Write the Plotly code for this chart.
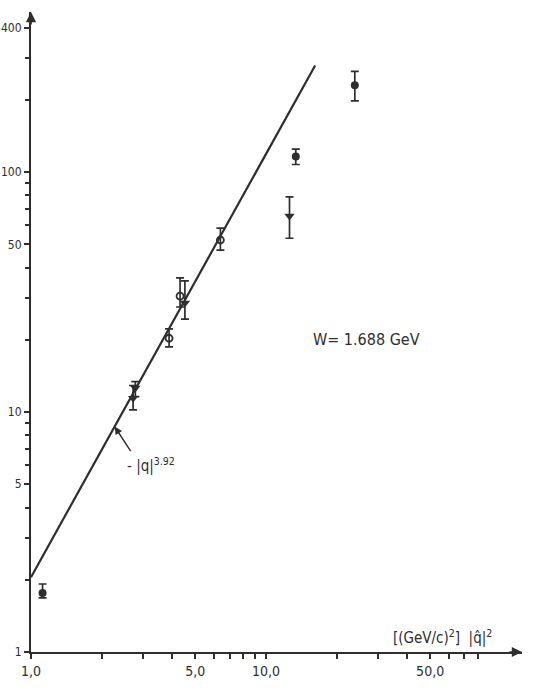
import numpy as np
import plotly.graph_objects as go

# Measured points, grouped by symbol: x = |q|^2 in (GeV/c)^2
full_x = [1.12, 13.4, 23.9]
full_y = [1.76, 116.0, 230.0]
full_up = [0.16, 8.5, 33.0]
full_dn = [0.08, 8.5, 32.0]

open_x = [3.87, 4.31, 6.40]
open_y = [20.3, 30.4, 52.1]
open_up = [1.9, 5.8, 6.3]
open_dn = [1.6, 3.0, 4.8]

tri_x = [2.72, 2.78, 4.52, 12.6]
tri_y = [11.4, 12.6, 28.5, 65.6]
tri_up = [1.5, 0.8, 6.7, 13.2]
tri_dn = [1.2, 1.0, 4.1, 12.6]

# Fitted power law |q|^3.92, drawn between its two ends
fit_x = [1.0, 16.2]
fit_y = [2.05, 278.0]

# Axis ticks
y_major = [1, 5, 10, 50, 100, 400]
y_major_text = ["1", "5", "10", "50", "100", "400"]
y_minor = [2, 3, 4, 6, 7, 8, 9, 20, 30, 40, 60, 70, 80, 90, 200, 300]
x_major = [1, 5, 10, 50]
x_major_text = ["1,0", "5,0", "10,0", "50,0"]
x_minor = [2, 3, 4, 6, 7, 8, 9, 20, 30, 40, 60, 70, 80]

INK = "#2e2e2e"
FONT = "DejaVu Sans Condensed, Liberation Sans Narrow, DejaVu Sans, sans-serif"

fig = go.Figure()

fig.add_trace(go.Scatter(
    x=fit_x, y=fit_y, mode="lines",
    line=dict(color=INK, width=2.2), hoverinfo="skip"))


def err(up, dn):
    return dict(type="data", symmetric=False, array=up, arrayminus=dn,
                color=INK, thickness=1.7, width=4)


fig.add_trace(go.Scatter(
    x=full_x, y=full_y, mode="markers",
    marker=dict(symbol="circle", size=8, color=INK),
    error_y=err(full_up, full_dn)))
fig.add_trace(go.Scatter(
    x=open_x, y=open_y, mode="markers",
    marker=dict(symbol="circle-open", size=7, color=INK, line=dict(width=1.8)),
    error_y=err(open_up, open_dn)))
fig.add_trace(go.Scatter(
    x=tri_x, y=tri_y, mode="markers",
    marker=dict(symbol="triangle-down", size=9, color=INK),
    error_y=err(tri_up, tri_dn)))

# Arrow pointing at the fit line, placed on the line itself
lx = np.log10(fit_x)
ly = np.log10(fit_y)
tip_lx = np.log10(2.27)
tip_ly = ly[0] + (ly[1] - ly[0]) * (tip_lx - lx[0]) / (lx[1] - lx[0])

annotations = [
    dict(x=tip_lx, y=tip_ly, xref="x", yref="y", text="", showarrow=True,
         ax=17, ay=26, arrowhead=2, arrowsize=1.1, arrowwidth=1.4,
         arrowcolor=INK),
    dict(x=0.40, y=0.779, xref="x", yref="y", xanchor="left",
         yanchor="middle", showarrow=False,
         text="- |q|<sup>3.92</sup>", font=dict(family=FONT, size=15, color=INK)),
    dict(x=1.43, y=1.304, xref="x", yref="y", showarrow=False,
         text="W= 1.688 GeV", font=dict(family=FONT, size=16, color=INK)),
    dict(x=1.75, y=0.0, xref="x", yref="y", yanchor="bottom", yshift=3,
         showarrow=False, text="[(GeV/c)<sup>2</sup>]  |q̂|<sup>2</sup>",
         font=dict(family=FONT, size=15, color=INK)),
    # axis arrow heads
    dict(x=1.0, y=0.0, xref="paper", yref="paper", text="", showarrow=True,
         ax=-14, ay=0, arrowhead=2, arrowsize=1.2, arrowwidth=1.7,
         arrowcolor=INK),
    dict(x=0.0, y=1.0, xref="paper", yref="paper", text="", showarrow=True,
         ax=0, ay=14, arrowhead=2, arrowsize=1.2, arrowwidth=1.7,
         arrowcolor=INK),
]

fig.update_layout(
    width=544, height=697,
    margin=dict(l=31, r=22, t=12, b=45),
    paper_bgcolor="white", plot_bgcolor="white",
    showlegend=False,
    annotations=annotations,
    font=dict(family=FONT, color=INK),
)

fig.update_xaxes(
    type="log", range=[0, 2.09], automargin=False,
    showgrid=False, zeroline=False,
    showline=True, linecolor=INK, linewidth=2.2,
    tickmode="array", tickvals=x_major, ticktext=x_major_text,
    ticks="outside", ticklen=5, tickwidth=1.6, tickcolor=INK,
    tickfont=dict(family=FONT, size=14, color=INK),
    minor=dict(tickmode="array", tickvals=x_minor, ticks="outside",
               ticklen=5, tickwidth=1.6, tickcolor=INK, showgrid=False),
)
fig.update_yaxes(
    type="log", range=[0, 2.667], automargin=False,
    showgrid=False, zeroline=False,
    showline=True, linecolor=INK, linewidth=2.2,
    tickmode="array", tickvals=y_major, ticktext=y_major_text,
    ticks="outside", ticklen=5, tickwidth=1.6, tickcolor=INK,
    tickfont=dict(family=FONT, size=12, color=INK),
    minor=dict(tickmode="array", tickvals=y_minor, ticks="outside",
               ticklen=4, tickwidth=1.6, tickcolor=INK, showgrid=False),
)

fig.write_html("out.html")
